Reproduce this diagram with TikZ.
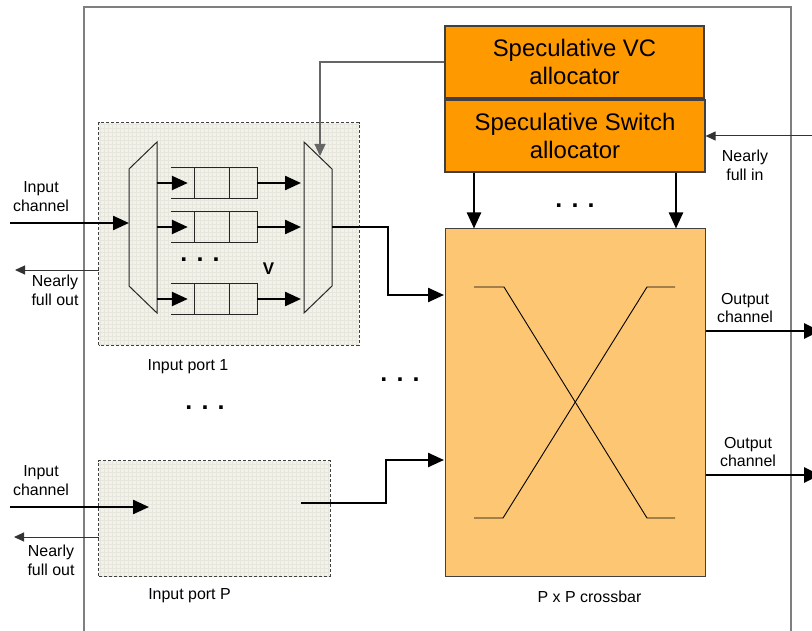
\documentclass[tikz,border=0pt]{standalone}
\usepackage{fontspec}
\setmainfont{Liberation Sans}
\usetikzlibrary{arrows.meta,calc}
\definecolor{allocfill}{HTML}{FF9900}
\definecolor{xbarfill}{HTML}{FDC673}
\definecolor{portfill}{HTML}{F2F2EB}
\definecolor{portgrid}{HTML}{E6E6DD}
\definecolor{framegray}{HTML}{7F7F7F}
\definecolor{edgegray}{HTML}{404040}
\definecolor{ctrlgray}{HTML}{666666}

\begin{document}
\begin{tikzpicture}[x=1bp,y=-1bp,
  bigtext/.style={font=\fontsize{24}{29}\selectfont, align=center},
  smalltext/.style={font=\fontsize{16}{19}\selectfont, align=center, inner sep=0},
  dotstext/.style={font=\fontsize{25}{25}\selectfont\bfseries, inner sep=0},
  alloc/.style={draw=edgegray, line width=1.2bp, fill=allocfill,
    minimum width=259bp, minimum height=72bp, inner sep=0, bigtext},
  xbar/.style={draw=edgegray, line width=1bp, fill=xbarfill,
    minimum width=260bp, minimum height=347bp, inner sep=0},
  portbox/.style={fill=portfill, inner sep=0},
  portborder/.style={draw=edgegray, line width=0.9bp, dash pattern=on 3bp off 2bp},
  gridline/.style={draw=portgrid, line width=0.35bp},
  bufslot/.style={minimum width=86bp, minimum height=30bp, inner sep=0},
  shapeline/.style={draw=black!85, line width=1bp},
  xline/.style={draw=black, line width=0.9bp},
  bigarrow/.style={draw=black, line width=2.4bp, -{Triangle[length=16bp,width=14bp]}},
  outarrow/.style={draw=black, line width=2.6bp, -{Triangle[length=16bp,width=15bp]}},
  thinarrow/.style={draw=black!80, line width=1bp, -{Triangle[length=10bp,width=9bp]}},
  ctrlarrow/.style={draw=ctrlgray, line width=1.2bp, -{Triangle[length=12bp,width=11bp]}}
]
\useasboundingbox (0,0) rectangle (812,631);

% router outline (open at the bottom)
\draw[framegray, line width=1.5bp] (84,640) -- (84,7) -- (791,7) -- (791,640);

% input port boxes with a fine grid fill
\node[portbox, minimum width=260bp, minimum height=222bp] (p1) at (229,234) {};
\node[portbox, minimum width=231bp, minimum height=115bp] (pP) at (214.5,518.5) {};
\foreach \p in {p1,pP}{
  \begin{scope}
    \clip (\p.south west) rectangle (\p.north east);
    \draw[gridline, step=4bp] (\p.south west) grid (\p.north east);
  \end{scope}
  \draw[portborder] (\p.south west) rectangle (\p.north east);
}

% allocators and crossbar
\node[alloc] (vc) at (574.5,62) {Speculative VC\\allocator};
\node[alloc, minimum width=260bp] (sw) at (575,136) {Speculative Switch\\allocator};
\node[xbar] (xb) at (575,402.5) {};

% crossbar symbol
\draw[xline] (474,287) -- (504,287) -- (647,518) -- (675,518);
\draw[xline] (675,287) -- (647,287) -- (503,518) -- (474,518);

% demultiplexer and multiplexer of input port 1
\coordinate (d1) at (129,169); \coordinate (d2) at (157,142);
\coordinate (d3) at (157,313); \coordinate (d4) at (129,286);
\draw[shapeline] (d1) -- (d2) -- (d3) -- (d4) -- cycle;
\coordinate (m1) at (304,142); \coordinate (m2) at (332,169);
\coordinate (m3) at (332,286); \coordinate (m4) at (304,313);
\draw[shapeline] (m1) -- (m2) -- (m3) -- (m4) -- cycle;

% virtual channel buffers
\node[bufslot] (b1) at (214,183) {};
\node[bufslot] (b2) at (214,227) {};
\node[bufslot] (b3) at (214,299) {};
\foreach \b in {b1,b2,b3}{
  \draw[shapeline] (\b.north west) -- (\b.north east) -- (\b.south east) -- (\b.south west);
  \draw[shapeline] ($(\b.north west)!0.28!(\b.north east)$) -- ($(\b.south west)!0.28!(\b.south east)$);
  \draw[shapeline] ($(\b.north west)!0.674!(\b.north east)$) -- ($(\b.south west)!0.674!(\b.south east)$);
  \draw[bigarrow] (\b.west -| d2) -- ([xshift=17bp]\b.west);
  \draw[bigarrow, shorten >=3bp] (\b.east) -- (\b.east -| m1);
}
\node[dotstext] (vdots) at (200,260) {. . .};
\node[font=\fontsize{17}{17}\selectfont\bfseries, inner sep=0] (vlabel) at (268.5,269) {V};

% input port 1 signals
\coordinate (in1) at (10,223);
\draw[bigarrow] (in1) -- (in1 -| d1);
\coordinate (nf1) at (15,270);
\draw[thinarrow] (nf1 -| p1.west) -- (nf1);
\node[smalltext] (in1lbl) at (41,197) {Input\\channel};
\node[smalltext] (nf1lbl) at (55,290) {Nearly\\full out};
\node[smalltext] (p1lbl) at (188,367) {Input port 1};

% input port P signals
\coordinate (inP) at (10,507);
\coordinate (inPend) at (149,507);
\draw[bigarrow] (inP) -- (inPend);
\coordinate (nfP) at (14,537);
\draw[thinarrow] (nfP -| pP.west) -- (nfP);
\node[smalltext] (inPlbl) at (41,481) {Input\\channel};
\node[smalltext] (nfPlbl) at (51,560) {Nearly\\full out};
\node[smalltext] (pPlbl) at (189.5,596) {Input port P};

% port outputs into the crossbar
\coordinate (mout) at (332,227);
\coordinate (xin1) at (444,295);
\draw[bigarrow] (mout) -- (388,227) -- (388,295) -- (xin1);
\coordinate (pout) at (301,503);
\coordinate (xinP) at (444,460);
\draw[bigarrow] (pout) -- (386,503) -- (386,460) -- (xinP);

% speculative VC allocation control
\coordinate (muxsel) at (320,156);
\draw[ctrlarrow] (vc.west) -- (vc.west -| muxsel) -- (muxsel);

% switch allocator to crossbar
\draw[bigarrow] (sw.south -| 474,0) -- (xb.north -| 474,0);
\draw[bigarrow] (sw.south -| 676,0) -- (xb.north -| 676,0);
\node[dotstext] (swdots) at (575,206) {. . .};

% nearly full in
\coordinate (nfin) at (813,136);
\draw[thinarrow] (nfin) -- (nfin -| sw.east);
\node[smalltext] (nfinlbl) at (745,165) {Nearly\\full in};

% output channels
\coordinate (out1) at (820,331);
\coordinate (out2) at (820,475);
\draw[outarrow] (out1 -| xb.east) -- (out1);
\draw[outarrow] (out2 -| xb.east) -- (out2);
\node[smalltext] (out1lbl) at (745,308) {Output\\channel};
\node[smalltext] (out2lbl) at (748,452) {Output\\channel};

% remaining ellipses
\node[dotstext] (portdots) at (205,408) {. . .};
\node[dotstext] (middots) at (400,380) {. . .};
\node[smalltext] (xblbl) at (589.5,597) {P x P crossbar};
\end{tikzpicture}
\end{document}
